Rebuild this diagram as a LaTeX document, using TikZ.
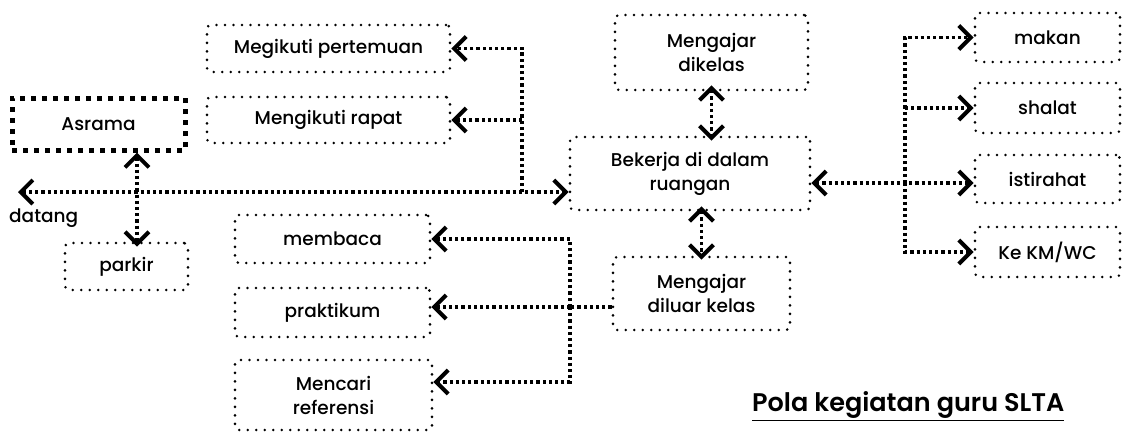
\documentclass[tikz,border=0pt]{standalone}
\usepackage{fontspec}
\setmainfont{Poppins}
\newfontfamily\medfont{Poppins Medium}
\newfontfamily\semifont{Poppins SemiBold}
\usetikzlibrary{arrows.meta,calc}
\begin{document}
\begin{tikzpicture}[x=1pt,y=-1pt,
  box/.style={draw, rounded corners=4pt, line width=2.8pt, dash pattern=on 0pt off 8.5pt, line cap=round,
    align=center, font=\medfont\fontsize{18.5}{24}\selectfont, inner sep=0pt},
  heavybox/.style={draw, line width=5pt, dash pattern=on 5pt off 6pt,
    align=center, font=\medfont\fontsize{18.5}{24}\selectfont, inner sep=0pt},
  conn/.style={line width=3.2pt, dash pattern=on 3.2pt off 3pt,
    arrows={-}, >={Straight Barb[length=12pt,width=24pt,line width=4pt]}},
]
\useasboundingbox (0,0) rectangle (1135,437);
% nodes
\node[box, minimum width=243pt, minimum height=47pt] (pertemuan) at (328.5,48.5) {Megikuti pertemuan};
\node[box, minimum width=243pt, minimum height=46pt] (rapat) at (328.5,120) {Mengikuti rapat};
\node[heavybox, minimum width=173pt, minimum height=52pt] (asrama) at (98.5,124) {Asrama};
\node[box, minimum width=123pt, minimum height=47pt] (parkir) at (126.5,266.5) {parkir};
\node[box, minimum width=193pt, minimum height=75pt] (dikelas) at (711.5,52.5) {Mengajar\\dikelas};
\node[box, minimum width=240pt, minimum height=73pt] (bekerja) at (690,173.5) {Bekerja di dalam\\ruangan};
\node[box, minimum width=177pt, minimum height=73pt] (diluar) at (701.5,293.5) {Mengajar\\diluar kelas};
\node[box, minimum width=195pt, minimum height=48pt] (membaca) at (332.5,239) {membaca};
\node[box, minimum width=195pt, minimum height=49pt] (praktikum) at (332.5,312.5) {praktikum};
\node[box, minimum width=197pt, minimum height=70pt] (mencari) at (333.5,395) {Mencari\\referensi};
\node[box, minimum width=145pt, minimum height=49pt] (makan) at (1047.5,37.5) {makan};
\node[box, minimum width=145pt, minimum height=50pt] (shalat) at (1047.5,108) {shalat};
\node[box, minimum width=145pt, minimum height=48pt] (istirahat) at (1047.5,179) {istirahat};
\node[box, minimum width=145pt, minimum height=50pt] (kmwc) at (1047.5,252) {Ke KM/WC};
\node[anchor=west, font=\medfont\fontsize{18.5}{22}\selectfont, inner sep=0pt] (datanglbl) at (9,218) {datang};
\node[anchor=south west, inner sep=0pt, font=\semifont\fontsize{25.5}{30}\selectfont] (title) at (752,421) {\underline{Pola kegiatan guru SLTA}};
% coordinates
\coordinate (datang) at (18,192);
\coordinate (j1) at (522,192);
\coordinate (ap) at (137,0);
\coordinate (rb) at (905,183);
\coordinate (lb) at (570,307);
\coordinate (mref) at (570,382);
% connectors
\draw[conn,<->] (datang) -- (bekerja.west |- datang);
\draw[conn,->] (j1) |- (pertemuan.east);
\draw[conn,->] (j1 |- rapat.east) -- (rapat.east);
\draw[conn,<->] (asrama.south -| ap) -- ([yshift=-5pt]parkir.north -| ap);
\draw[conn,<->] ([yshift=6pt]dikelas.south) -- ([yshift=-5pt]dikelas.south |- bekerja.north);
\draw[conn,<->] ([yshift=5pt]bekerja.south -| diluar.north) -- ([yshift=-4pt]diluar.north);
\draw[conn,<->] (bekerja.east |- rb) -- (istirahat.west |- rb);
\draw[conn,->] (rb) |- (makan.west);
\draw[conn,->] (rb |- shalat.west) -- (shalat.west);
\draw[conn,->] (rb) |- (kmwc.west);
\draw[conn] (diluar.west |- lb) -- (lb);
\draw[conn,->] (lb) |- (membaca.east);
\draw[conn,->] (lb) -- (praktikum.east |- lb);
\draw[conn,->] (lb) -- (mref) -- (mencari.east |- mref);
\end{tikzpicture}
\end{document}
